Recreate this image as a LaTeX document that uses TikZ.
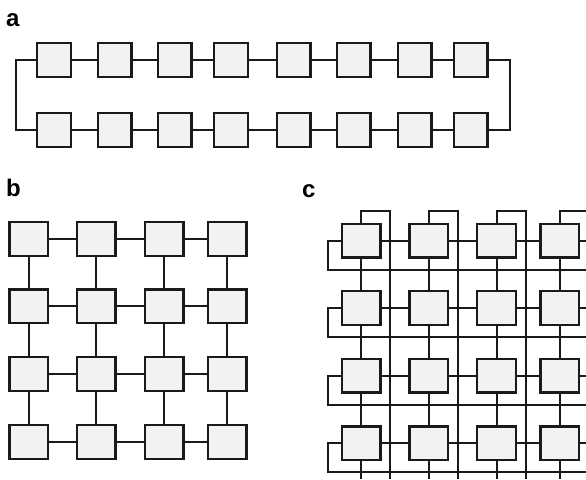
\documentclass[tikz,border=0pt]{standalone}
\usepackage{fontspec}
\setmainfont{Liberation Sans}
\usetikzlibrary{backgrounds}
\definecolor{boxfill}{HTML}{F2F2F2}
\definecolor{ink}{HTML}{1A1A1A}
\tikzset{
  box/.style={draw=ink, fill=boxfill, line width=2.4pt, minimum width=38.6pt, minimum height=33.6pt, inner sep=0pt},
  boxa/.style={box, minimum width=33.6pt, minimum height=33.6pt},
  wire/.style={draw=ink, line width=2pt},
  lab/.style={font=\bfseries\fontsize{24}{27}\selectfont, anchor=base west, inner sep=0pt}
}
\begin{document}
\begin{tikzpicture}[x=1pt,y=-1pt]
\useasboundingbox (0,0) rectangle (586,479);
\node[lab] (la) at (6,26) {a};
\node[lab] (lb) at (6,196.5) {b};
\node[lab] (lc) at (302,197) {c};

% ---------- part a: ring ----------
\foreach \i/\x in {1/54,2/114.5,3/174.5,4/231,5/293.5,6/353.5,7/414.5,8/470.5}{
  \node[boxa] (at\i) at (\x,60) {};
  \node[boxa] (ab\i) at (\x,130) {};
}
\begin{scope}[on background layer]
  \foreach \i/\j in {1/2,2/3,3/4,4/5,5/6,6/7,7/8}{
    \draw[wire] (at\i.east) -- (at\j.west);
    \draw[wire] (ab\i.east) -- (ab\j.west);
  }
  \draw[wire] (at1.west) -- ++(-20,0) |- (ab1.west);
  \draw[wire] (at8.east) -- ++(21,0) |- (ab8.east);
\end{scope}

% ---------- part b: mesh ----------
\foreach \r/\y in {1/239,2/306.3,3/374,4/442}{
  \foreach \c/\x in {1/28.8,2/96.3,3/164.2,4/227.2}{
    \node[box] (b\r\c) at (\x,\y) {};
  }
}
\begin{scope}[on background layer]
  \foreach \r in {1,2,3,4}{
    \foreach \c/\d in {1/2,2/3,3/4}{
      \draw[wire] (b\r\c.east) -- (b\r\d.west);
    }
  }
  \foreach \r/\s in {1/2,2/3,3/4}{
    \foreach \c in {1,2,3,4}{
      \draw[wire] (b\r\c.south) -- (b\s\c.north);
    }
  }
\end{scope}

% ---------- part c: torus ----------
\foreach \r/\y in {1/240.7,2/308,3/375.7,4/443.3}{
  \foreach \c/\x in {1/361.2,2/428.8,3/496.5,4/559.7}{
    \node[box] (c\r\c) at (\x,\y) {};
  }
}
\begin{scope}[on background layer]
  \foreach \r in {1,2,3,4}{
    \foreach \c/\d in {1/2,2/3,3/4}{
      \draw[wire] (c\r\c.east) -- (c\r\d.west);
    }
  }
  \foreach \r/\s in {1/2,2/3,3/4}{
    \foreach \c in {1,2,3,4}{
      \draw[wire] (c\r\c.south) -- (c\s\c.north);
    }
  }
  % row wrap-arounds
  \foreach \r/\y in {1/240.7,2/308,3/375.7,4/443.3}{
    \coordinate (cre\r) at (586,\y+29);
    \coordinate (crs\r) at (586,\y);
    \draw[wire] (c\r1.west) -- ++(-12.5,0) |- (cre\r);
    \draw[wire] (c\r4.east) -- (crs\r);
  }
  % column wrap-arounds
  \foreach \c/\x in {1/361.2,2/428.8,3/496.5,4/559.7}{
    \coordinate (cbe\c) at (\x+29,479);
    \coordinate (cbs\c) at (\x,479);
    \draw[wire] (c1\c.north) -- ++(0,-12) -| (cbe\c);
    \draw[wire] (c4\c.south) -- (cbs\c);
  }
\end{scope}
\end{tikzpicture}
\end{document}
